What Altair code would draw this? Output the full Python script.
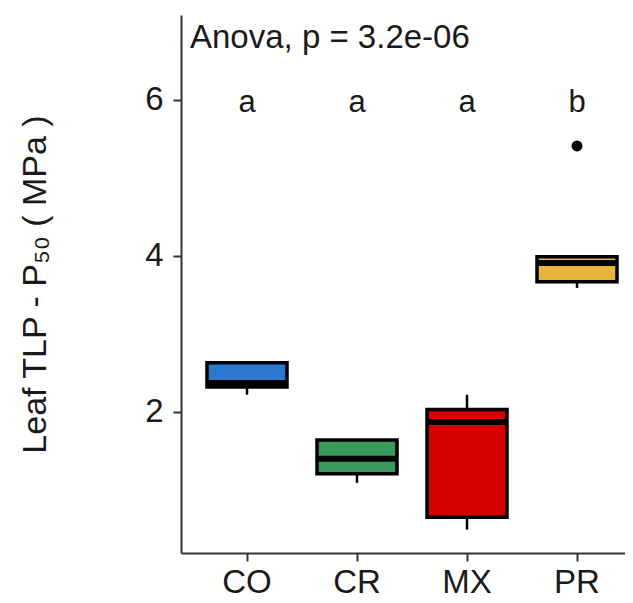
import altair as alt
import pandas as pd

# ---- data ----
groups = ["CO", "CR", "MX", "PR"]
lower = [2.22, 1.09, 0.49, 3.59]
q1 = [2.32, 1.205, 0.65, 3.67]
median = [2.37, 1.40, 1.87, 3.91]
q3 = [2.63, 1.64, 2.03, 3.99]
upper = [2.63, 1.64, 2.22, 3.99]
fill_colors = ["#2a78d0", "#3a9a5e", "#d40000", "#e8b43c"]

outlier_groups = ["PR"]
outlier_values = [5.41]

letters = ["a", "a", "a", "b"]
letter_y = 5.85

anova_text = "Anova, p = 3.2e-06"
anova_y = 6.67

y_ticks = [2, 4, 6]
y_domain = [0.19, 7.09]
y_title = "Leaf TLP - P\u2085\u2080 ( MPa )"

FONT = "Liberation Sans"

box_df = pd.DataFrame({
    "group": groups, "lower": lower, "q1": q1, "median": median,
    "q3": q3, "upper": upper,
})
out_df = pd.DataFrame({"group": outlier_groups, "value": outlier_values})
let_df = pd.DataFrame({"group": groups, "letter": letters, "ly": [letter_y] * len(groups)})
anova_df = pd.DataFrame({"label": [anova_text], "ay": [anova_y]})

xscale = alt.Scale(domain=groups, type="band", paddingInner=0, paddingOuter=0.1, range=[0, 462])
yscale = alt.Scale(domain=y_domain, nice=False, zero=False)

x_enc = alt.X("group:N", scale=xscale, sort=groups,
              axis=alt.Axis(title=None, labelAngle=0, tickSize=8, labelPadding=5))

base = alt.Chart(box_df)

whisk_lo = base.mark_rule(color="black", strokeWidth=2.5).encode(
    x=x_enc,
    y=alt.Y("lower:Q", scale=yscale,
            axis=alt.Axis(values=y_ticks, format="d", title=y_title, tickSize=8,
                          labelPadding=10, titlePadding=92, grid=False)),
    y2="q1:Q",
)
whisk_hi = base.mark_rule(color="black", strokeWidth=2.5).encode(
    x=x_enc, y=alt.Y("q3:Q", scale=yscale), y2="upper:Q",
)
boxes = base.mark_bar(size=80, stroke="black", strokeWidth=3.5, opacity=1).encode(
    x=x_enc,
    y=alt.Y("q1:Q", scale=yscale),
    y2="q3:Q",
    fill=alt.Fill("group:N", scale=alt.Scale(domain=groups, range=fill_colors), legend=None),
)
med = base.mark_tick(color="black", size=78, thickness=6, opacity=1).encode(
    x=x_enc, y=alt.Y("median:Q", scale=yscale),
)
outs = alt.Chart(out_df).mark_circle(color="black", size=120, opacity=1).encode(
    x=x_enc, y=alt.Y("value:Q", scale=yscale),
)
lets = alt.Chart(let_df).mark_text(font=FONT, fontSize=31, baseline="alphabetic",
                                   align="center", color="#1a1a1a").encode(
    x=x_enc, y=alt.Y("ly:Q", scale=yscale), text="letter:N",
)
anova = alt.Chart(anova_df).mark_text(font=FONT, fontSize=33, baseline="alphabetic",
                                      align="left", color="#1a1a1a").encode(
    x=alt.value(9), y=alt.Y("ay:Q", scale=yscale), text="label:N",
)

chart = alt.layer(whisk_lo, whisk_hi, boxes, med, outs, lets, anova).properties(
    width=444, height=538,
    autosize=alt.AutoSizeParams(type="none"),
    padding={"left": 173, "top": 7, "right": 0, "bottom": 50},
).configure_view(stroke=None).configure_axis(
    labelFont=FONT, titleFont=FONT, labelFontSize=33, titleFontSize=34,
    titleFontWeight="normal", labelColor="#1a1a1a", titleColor="#1a1a1a",
    domainColor="#333333", domainWidth=2, tickColor="#333333", tickWidth=2,
    grid=False,
)

chart.save("out.html", embed_options={"renderer": "svg", "actions": False})
